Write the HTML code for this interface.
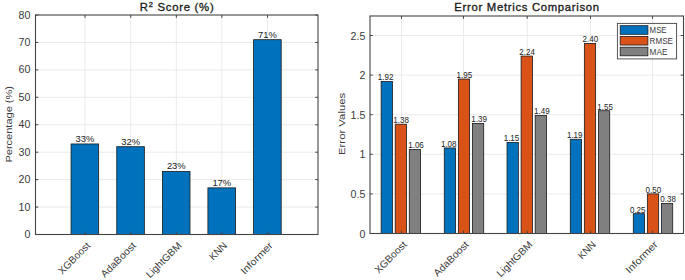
<!DOCTYPE html>
<html><head><meta charset="utf-8"><style>
html,body{margin:0;padding:0;background:#fff;}
body{width:685px;height:280px;overflow:hidden;}
svg{display:block;font-family:"Liberation Sans", sans-serif;}
</style></head><body>
<svg width="685" height="280" viewBox="0 0 685 280">
<rect width="685" height="280" fill="#fff"/>
<line x1="35.5" y1="207.06" x2="318.0" y2="207.06" stroke="#eaeaea" stroke-width="1"/>
<line x1="35.5" y1="179.62" x2="318.0" y2="179.62" stroke="#eaeaea" stroke-width="1"/>
<line x1="35.5" y1="152.19" x2="318.0" y2="152.19" stroke="#eaeaea" stroke-width="1"/>
<line x1="35.5" y1="124.75" x2="318.0" y2="124.75" stroke="#eaeaea" stroke-width="1"/>
<line x1="35.5" y1="97.31" x2="318.0" y2="97.31" stroke="#eaeaea" stroke-width="1"/>
<line x1="35.5" y1="69.88" x2="318.0" y2="69.88" stroke="#eaeaea" stroke-width="1"/>
<line x1="35.5" y1="42.44" x2="318.0" y2="42.44" stroke="#eaeaea" stroke-width="1"/>
<line x1="85.00" y1="15.0" x2="85.00" y2="234.5" stroke="#eaeaea" stroke-width="1"/>
<line x1="130.70" y1="15.0" x2="130.70" y2="234.5" stroke="#eaeaea" stroke-width="1"/>
<line x1="176.35" y1="15.0" x2="176.35" y2="234.5" stroke="#eaeaea" stroke-width="1"/>
<line x1="221.85" y1="15.0" x2="221.85" y2="234.5" stroke="#eaeaea" stroke-width="1"/>
<line x1="267.55" y1="15.0" x2="267.55" y2="234.5" stroke="#eaeaea" stroke-width="1"/>
<rect x="71.05" y="143.96" width="27.6" height="90.54" fill="#0072bd" stroke="#1a1a1a" stroke-width="0.8"/>
<text x="84.95" y="141.96" font-size="8.7" text-anchor="middle" font-weight="normal" fill="#1a1a1a" textLength="18.8" lengthAdjust="spacingAndGlyphs" >33%</text>
<rect x="116.75" y="146.70" width="27.6" height="87.80" fill="#0072bd" stroke="#1a1a1a" stroke-width="0.8"/>
<text x="130.65" y="144.70" font-size="8.7" text-anchor="middle" font-weight="normal" fill="#1a1a1a" textLength="18.8" lengthAdjust="spacingAndGlyphs" >32%</text>
<rect x="162.40" y="171.39" width="27.6" height="63.11" fill="#0072bd" stroke="#1a1a1a" stroke-width="0.8"/>
<text x="176.30" y="169.39" font-size="8.7" text-anchor="middle" font-weight="normal" fill="#1a1a1a" textLength="18.8" lengthAdjust="spacingAndGlyphs" >23%</text>
<rect x="207.90" y="187.86" width="27.6" height="46.64" fill="#0072bd" stroke="#1a1a1a" stroke-width="0.8"/>
<text x="221.80" y="185.86" font-size="8.7" text-anchor="middle" font-weight="normal" fill="#1a1a1a" textLength="18.8" lengthAdjust="spacingAndGlyphs" >17%</text>
<rect x="253.60" y="39.69" width="27.6" height="194.81" fill="#0072bd" stroke="#1a1a1a" stroke-width="0.8"/>
<text x="267.50" y="37.69" font-size="8.7" text-anchor="middle" font-weight="normal" fill="#1a1a1a" textLength="18.8" lengthAdjust="spacingAndGlyphs" >71%</text>
<rect x="35.5" y="15.0" width="282.50" height="219.50" fill="none" stroke="#444444" stroke-width="1.1"/>
<line x1="35.5" y1="234.50" x2="38.3" y2="234.50" stroke="#444444" stroke-width="1"/>
<line x1="318.0" y1="234.50" x2="315.2" y2="234.50" stroke="#444444" stroke-width="1"/>
<text x="30.40" y="238.05" font-size="10.0" text-anchor="end" font-weight="normal" fill="#3a3a3a" textLength="5.92" lengthAdjust="spacingAndGlyphs" >0</text>
<line x1="35.5" y1="207.06" x2="38.3" y2="207.06" stroke="#444444" stroke-width="1"/>
<line x1="318.0" y1="207.06" x2="315.2" y2="207.06" stroke="#444444" stroke-width="1"/>
<text x="30.40" y="210.61" font-size="10.0" text-anchor="end" font-weight="normal" fill="#3a3a3a" textLength="11.83" lengthAdjust="spacingAndGlyphs" >10</text>
<line x1="35.5" y1="179.62" x2="38.3" y2="179.62" stroke="#444444" stroke-width="1"/>
<line x1="318.0" y1="179.62" x2="315.2" y2="179.62" stroke="#444444" stroke-width="1"/>
<text x="30.40" y="183.18" font-size="10.0" text-anchor="end" font-weight="normal" fill="#3a3a3a" textLength="11.83" lengthAdjust="spacingAndGlyphs" >20</text>
<line x1="35.5" y1="152.19" x2="38.3" y2="152.19" stroke="#444444" stroke-width="1"/>
<line x1="318.0" y1="152.19" x2="315.2" y2="152.19" stroke="#444444" stroke-width="1"/>
<text x="30.40" y="155.74" font-size="10.0" text-anchor="end" font-weight="normal" fill="#3a3a3a" textLength="11.83" lengthAdjust="spacingAndGlyphs" >30</text>
<line x1="35.5" y1="124.75" x2="38.3" y2="124.75" stroke="#444444" stroke-width="1"/>
<line x1="318.0" y1="124.75" x2="315.2" y2="124.75" stroke="#444444" stroke-width="1"/>
<text x="30.40" y="128.30" font-size="10.0" text-anchor="end" font-weight="normal" fill="#3a3a3a" textLength="11.83" lengthAdjust="spacingAndGlyphs" >40</text>
<line x1="35.5" y1="97.31" x2="38.3" y2="97.31" stroke="#444444" stroke-width="1"/>
<line x1="318.0" y1="97.31" x2="315.2" y2="97.31" stroke="#444444" stroke-width="1"/>
<text x="30.40" y="100.86" font-size="10.0" text-anchor="end" font-weight="normal" fill="#3a3a3a" textLength="11.83" lengthAdjust="spacingAndGlyphs" >50</text>
<line x1="35.5" y1="69.88" x2="38.3" y2="69.88" stroke="#444444" stroke-width="1"/>
<line x1="318.0" y1="69.88" x2="315.2" y2="69.88" stroke="#444444" stroke-width="1"/>
<text x="30.40" y="73.42" font-size="10.0" text-anchor="end" font-weight="normal" fill="#3a3a3a" textLength="11.83" lengthAdjust="spacingAndGlyphs" >60</text>
<line x1="35.5" y1="42.44" x2="38.3" y2="42.44" stroke="#444444" stroke-width="1"/>
<line x1="318.0" y1="42.44" x2="315.2" y2="42.44" stroke="#444444" stroke-width="1"/>
<text x="30.40" y="45.99" font-size="10.0" text-anchor="end" font-weight="normal" fill="#3a3a3a" textLength="11.83" lengthAdjust="spacingAndGlyphs" >70</text>
<line x1="35.5" y1="15.00" x2="38.3" y2="15.00" stroke="#444444" stroke-width="1"/>
<line x1="318.0" y1="15.00" x2="315.2" y2="15.00" stroke="#444444" stroke-width="1"/>
<text x="30.40" y="18.55" font-size="10.0" text-anchor="end" font-weight="normal" fill="#3a3a3a" textLength="11.83" lengthAdjust="spacingAndGlyphs" >80</text>
<line x1="85.00" y1="234.5" x2="85.00" y2="231.7" stroke="#444444" stroke-width="1"/>
<line x1="85.00" y1="15.0" x2="85.00" y2="17.8" stroke="#444444" stroke-width="1"/>
<text transform="translate(90.90,246.20) rotate(-45)" font-size="10.0" text-anchor="end" fill="#3a3a3a" textLength="40.69" lengthAdjust="spacingAndGlyphs">XGBoost</text>
<line x1="130.70" y1="234.5" x2="130.70" y2="231.7" stroke="#444444" stroke-width="1"/>
<line x1="130.70" y1="15.0" x2="130.70" y2="17.8" stroke="#444444" stroke-width="1"/>
<text transform="translate(136.60,246.20) rotate(-45)" font-size="10.0" text-anchor="end" fill="#3a3a3a" textLength="45.0" lengthAdjust="spacingAndGlyphs">AdaBoost</text>
<line x1="176.35" y1="234.5" x2="176.35" y2="231.7" stroke="#444444" stroke-width="1"/>
<line x1="176.35" y1="15.0" x2="176.35" y2="17.8" stroke="#444444" stroke-width="1"/>
<text transform="translate(182.25,246.20) rotate(-45)" font-size="10.0" text-anchor="end" fill="#3a3a3a" textLength="45.78" lengthAdjust="spacingAndGlyphs">LightGBM</text>
<line x1="221.85" y1="234.5" x2="221.85" y2="231.7" stroke="#444444" stroke-width="1"/>
<line x1="221.85" y1="15.0" x2="221.85" y2="17.8" stroke="#444444" stroke-width="1"/>
<text transform="translate(227.75,246.20) rotate(-45)" font-size="10.0" text-anchor="end" fill="#3a3a3a" textLength="20.44" lengthAdjust="spacingAndGlyphs">KNN</text>
<line x1="267.55" y1="234.5" x2="267.55" y2="231.7" stroke="#444444" stroke-width="1"/>
<line x1="267.55" y1="15.0" x2="267.55" y2="17.8" stroke="#444444" stroke-width="1"/>
<text transform="translate(273.45,246.20) rotate(-45)" font-size="10.0" text-anchor="end" fill="#3a3a3a" textLength="40.72" lengthAdjust="spacingAndGlyphs">Informer</text>
<text x="176.75" y="10.5" font-size="11.3" text-anchor="middle" fill="#1a1a1a" stroke="#1a1a1a" stroke-width="0.32" textLength="73.8" lengthAdjust="spacing">R<tspan font-size="7.4" dy="-3.7">2</tspan><tspan dy="3.7"> Score (%)</tspan></text>
<text transform="translate(12.40,124.30) rotate(-90)" font-size="9.9" text-anchor="middle" fill="#3a3a3a" textLength="76.5" lengthAdjust="spacingAndGlyphs">Percentage (%)</text>
<line x1="370.0" y1="193.90" x2="683.5" y2="193.90" stroke="#eaeaea" stroke-width="1"/>
<line x1="370.0" y1="154.30" x2="683.5" y2="154.30" stroke="#eaeaea" stroke-width="1"/>
<line x1="370.0" y1="114.70" x2="683.5" y2="114.70" stroke="#eaeaea" stroke-width="1"/>
<line x1="370.0" y1="75.10" x2="683.5" y2="75.10" stroke="#eaeaea" stroke-width="1"/>
<line x1="370.0" y1="35.50" x2="683.5" y2="35.50" stroke="#eaeaea" stroke-width="1"/>
<line x1="401.50" y1="16.0" x2="401.50" y2="233.5" stroke="#eaeaea" stroke-width="1"/>
<line x1="463.50" y1="16.0" x2="463.50" y2="233.5" stroke="#eaeaea" stroke-width="1"/>
<line x1="527.20" y1="16.0" x2="527.20" y2="233.5" stroke="#eaeaea" stroke-width="1"/>
<line x1="590.50" y1="16.0" x2="590.50" y2="233.5" stroke="#eaeaea" stroke-width="1"/>
<line x1="652.50" y1="16.0" x2="652.50" y2="233.5" stroke="#eaeaea" stroke-width="1"/>
<rect x="381.13" y="81.44" width="11.3" height="152.06" fill="#0072bd" stroke="#1a1a1a" stroke-width="0.8"/>
<text x="385.58" y="80.24" font-size="8.7" text-anchor="middle" font-weight="normal" fill="#1a1a1a" textLength="15.6" lengthAdjust="spacingAndGlyphs" >1.92</text>
<rect x="395.20" y="124.20" width="11.3" height="109.30" fill="#d95319" stroke="#1a1a1a" stroke-width="0.8"/>
<text x="401.15" y="123.00" font-size="8.7" text-anchor="middle" font-weight="normal" fill="#1a1a1a" textLength="15.6" lengthAdjust="spacingAndGlyphs" >1.38</text>
<rect x="409.27" y="149.55" width="11.3" height="83.95" fill="#808080" stroke="#1a1a1a" stroke-width="0.8"/>
<text x="416.02" y="148.35" font-size="8.7" text-anchor="middle" font-weight="normal" fill="#1a1a1a" textLength="15.6" lengthAdjust="spacingAndGlyphs" >1.06</text>
<rect x="444.28" y="147.96" width="11.3" height="85.54" fill="#0072bd" stroke="#1a1a1a" stroke-width="0.8"/>
<text x="448.73" y="146.76" font-size="8.7" text-anchor="middle" font-weight="normal" fill="#1a1a1a" textLength="15.6" lengthAdjust="spacingAndGlyphs" >1.08</text>
<rect x="458.35" y="79.06" width="11.3" height="154.44" fill="#d95319" stroke="#1a1a1a" stroke-width="0.8"/>
<text x="464.30" y="77.86" font-size="8.7" text-anchor="middle" font-weight="normal" fill="#1a1a1a" textLength="15.6" lengthAdjust="spacingAndGlyphs" >1.95</text>
<rect x="472.42" y="123.41" width="11.3" height="110.09" fill="#808080" stroke="#1a1a1a" stroke-width="0.8"/>
<text x="479.17" y="122.21" font-size="8.7" text-anchor="middle" font-weight="normal" fill="#1a1a1a" textLength="15.6" lengthAdjust="spacingAndGlyphs" >1.39</text>
<rect x="507.03" y="142.42" width="11.3" height="91.08" fill="#0072bd" stroke="#1a1a1a" stroke-width="0.8"/>
<text x="511.48" y="141.22" font-size="8.7" text-anchor="middle" font-weight="normal" fill="#1a1a1a" textLength="15.6" lengthAdjust="spacingAndGlyphs" >1.15</text>
<rect x="521.10" y="56.09" width="11.3" height="177.41" fill="#d95319" stroke="#1a1a1a" stroke-width="0.8"/>
<text x="527.05" y="54.89" font-size="8.7" text-anchor="middle" font-weight="normal" fill="#1a1a1a" textLength="15.6" lengthAdjust="spacingAndGlyphs" >2.24</text>
<rect x="535.17" y="115.49" width="11.3" height="118.01" fill="#808080" stroke="#1a1a1a" stroke-width="0.8"/>
<text x="541.92" y="114.29" font-size="8.7" text-anchor="middle" font-weight="normal" fill="#1a1a1a" textLength="15.6" lengthAdjust="spacingAndGlyphs" >1.49</text>
<rect x="570.28" y="139.25" width="11.3" height="94.25" fill="#0072bd" stroke="#1a1a1a" stroke-width="0.8"/>
<text x="574.73" y="138.05" font-size="8.7" text-anchor="middle" font-weight="normal" fill="#1a1a1a" textLength="15.6" lengthAdjust="spacingAndGlyphs" >1.19</text>
<rect x="584.35" y="43.42" width="11.3" height="190.08" fill="#d95319" stroke="#1a1a1a" stroke-width="0.8"/>
<text x="590.30" y="42.22" font-size="8.7" text-anchor="middle" font-weight="normal" fill="#1a1a1a" textLength="15.6" lengthAdjust="spacingAndGlyphs" >2.40</text>
<rect x="598.42" y="110.74" width="11.3" height="122.76" fill="#808080" stroke="#1a1a1a" stroke-width="0.8"/>
<text x="605.17" y="109.54" font-size="8.7" text-anchor="middle" font-weight="normal" fill="#1a1a1a" textLength="15.6" lengthAdjust="spacingAndGlyphs" >1.55</text>
<rect x="633.28" y="213.70" width="11.3" height="19.80" fill="#0072bd" stroke="#1a1a1a" stroke-width="0.8"/>
<text x="637.73" y="212.50" font-size="8.7" text-anchor="middle" font-weight="normal" fill="#1a1a1a" textLength="15.6" lengthAdjust="spacingAndGlyphs" >0.25</text>
<rect x="647.35" y="193.90" width="11.3" height="39.60" fill="#d95319" stroke="#1a1a1a" stroke-width="0.8"/>
<text x="653.30" y="192.70" font-size="8.7" text-anchor="middle" font-weight="normal" fill="#1a1a1a" textLength="15.6" lengthAdjust="spacingAndGlyphs" >0.50</text>
<rect x="661.42" y="203.40" width="11.3" height="30.10" fill="#808080" stroke="#1a1a1a" stroke-width="0.8"/>
<text x="668.17" y="202.20" font-size="8.7" text-anchor="middle" font-weight="normal" fill="#1a1a1a" textLength="15.6" lengthAdjust="spacingAndGlyphs" >0.38</text>
<rect x="370.0" y="16.0" width="313.50" height="217.50" fill="none" stroke="#444444" stroke-width="1.1"/>
<line x1="370.0" y1="233.50" x2="372.8" y2="233.50" stroke="#444444" stroke-width="1"/>
<line x1="683.5" y1="233.50" x2="680.7" y2="233.50" stroke="#444444" stroke-width="1"/>
<text x="365.40" y="237.60" font-size="10.0" text-anchor="end" font-weight="normal" fill="#3a3a3a" textLength="5.92" lengthAdjust="spacingAndGlyphs" >0</text>
<line x1="370.0" y1="193.90" x2="372.8" y2="193.90" stroke="#444444" stroke-width="1"/>
<line x1="683.5" y1="193.90" x2="680.7" y2="193.90" stroke="#444444" stroke-width="1"/>
<text x="365.40" y="198.00" font-size="10.0" text-anchor="end" font-weight="normal" fill="#3a3a3a" textLength="14.79" lengthAdjust="spacingAndGlyphs" >0.5</text>
<line x1="370.0" y1="154.30" x2="372.8" y2="154.30" stroke="#444444" stroke-width="1"/>
<line x1="683.5" y1="154.30" x2="680.7" y2="154.30" stroke="#444444" stroke-width="1"/>
<text x="365.40" y="158.40" font-size="10.0" text-anchor="end" font-weight="normal" fill="#3a3a3a" textLength="5.92" lengthAdjust="spacingAndGlyphs" >1</text>
<line x1="370.0" y1="114.70" x2="372.8" y2="114.70" stroke="#444444" stroke-width="1"/>
<line x1="683.5" y1="114.70" x2="680.7" y2="114.70" stroke="#444444" stroke-width="1"/>
<text x="365.40" y="118.80" font-size="10.0" text-anchor="end" font-weight="normal" fill="#3a3a3a" textLength="14.79" lengthAdjust="spacingAndGlyphs" >1.5</text>
<line x1="370.0" y1="75.10" x2="372.8" y2="75.10" stroke="#444444" stroke-width="1"/>
<line x1="683.5" y1="75.10" x2="680.7" y2="75.10" stroke="#444444" stroke-width="1"/>
<text x="365.40" y="79.20" font-size="10.0" text-anchor="end" font-weight="normal" fill="#3a3a3a" textLength="5.92" lengthAdjust="spacingAndGlyphs" >2</text>
<line x1="370.0" y1="35.50" x2="372.8" y2="35.50" stroke="#444444" stroke-width="1"/>
<line x1="683.5" y1="35.50" x2="680.7" y2="35.50" stroke="#444444" stroke-width="1"/>
<text x="365.40" y="39.60" font-size="10.0" text-anchor="end" font-weight="normal" fill="#3a3a3a" textLength="14.79" lengthAdjust="spacingAndGlyphs" >2.5</text>
<line x1="401.50" y1="233.5" x2="401.50" y2="230.7" stroke="#444444" stroke-width="1"/>
<line x1="401.50" y1="16.0" x2="401.50" y2="18.8" stroke="#444444" stroke-width="1"/>
<text transform="translate(407.40,245.20) rotate(-45)" font-size="10.0" text-anchor="end" fill="#3a3a3a" textLength="40.69" lengthAdjust="spacingAndGlyphs">XGBoost</text>
<line x1="463.50" y1="233.5" x2="463.50" y2="230.7" stroke="#444444" stroke-width="1"/>
<line x1="463.50" y1="16.0" x2="463.50" y2="18.8" stroke="#444444" stroke-width="1"/>
<text transform="translate(469.40,245.20) rotate(-45)" font-size="10.0" text-anchor="end" fill="#3a3a3a" textLength="45.0" lengthAdjust="spacingAndGlyphs">AdaBoost</text>
<line x1="527.20" y1="233.5" x2="527.20" y2="230.7" stroke="#444444" stroke-width="1"/>
<line x1="527.20" y1="16.0" x2="527.20" y2="18.8" stroke="#444444" stroke-width="1"/>
<text transform="translate(533.10,245.20) rotate(-45)" font-size="10.0" text-anchor="end" fill="#3a3a3a" textLength="45.78" lengthAdjust="spacingAndGlyphs">LightGBM</text>
<line x1="590.50" y1="233.5" x2="590.50" y2="230.7" stroke="#444444" stroke-width="1"/>
<line x1="590.50" y1="16.0" x2="590.50" y2="18.8" stroke="#444444" stroke-width="1"/>
<text transform="translate(596.40,245.20) rotate(-45)" font-size="10.0" text-anchor="end" fill="#3a3a3a" textLength="20.44" lengthAdjust="spacingAndGlyphs">KNN</text>
<line x1="652.50" y1="233.5" x2="652.50" y2="230.7" stroke="#444444" stroke-width="1"/>
<line x1="652.50" y1="16.0" x2="652.50" y2="18.8" stroke="#444444" stroke-width="1"/>
<text transform="translate(658.40,245.20) rotate(-45)" font-size="10.0" text-anchor="end" fill="#3a3a3a" textLength="40.72" lengthAdjust="spacingAndGlyphs">Informer</text>
<text x="526.75" y="10.6" font-size="11.3" text-anchor="middle" fill="#1a1a1a" stroke="#1a1a1a" stroke-width="0.32" textLength="144.8" lengthAdjust="spacing">Error Metrics Comparison</text>
<text transform="translate(345.30,123.90) rotate(-90)" font-size="9.9" text-anchor="middle" fill="#3a3a3a" textLength="62.2" lengthAdjust="spacingAndGlyphs">Error Values</text>
<rect x="617.4" y="23.4" width="59.20" height="35.50" fill="#ffffff" stroke="#444444" stroke-width="0.9"/>
<rect x="620.2" y="25.70" width="27.7" height="8.6" fill="#0072bd" stroke="#1a1a1a" stroke-width="0.8"/>
<text x="649.60" y="33.20" font-size="8.6" text-anchor="start" font-weight="normal" fill="#3a3a3a" textLength="17.0" lengthAdjust="spacingAndGlyphs" >MSE</text>
<rect x="620.2" y="36.45" width="27.7" height="8.6" fill="#d95319" stroke="#1a1a1a" stroke-width="0.8"/>
<text x="649.60" y="43.95" font-size="8.6" text-anchor="start" font-weight="normal" fill="#3a3a3a" textLength="23.3" lengthAdjust="spacingAndGlyphs" >RMSE</text>
<rect x="620.2" y="47.20" width="27.7" height="8.6" fill="#808080" stroke="#1a1a1a" stroke-width="0.8"/>
<text x="649.60" y="54.70" font-size="8.6" text-anchor="start" font-weight="normal" fill="#3a3a3a" textLength="17.9" lengthAdjust="spacingAndGlyphs" >MAE</text>
</svg>
</body></html>
